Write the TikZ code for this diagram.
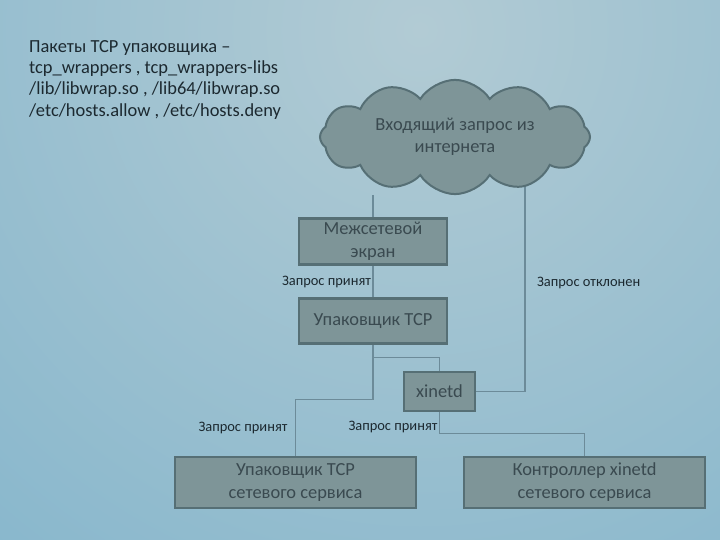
\documentclass[tikz,border=0pt]{standalone}
\usepackage{fontspec}
\setmainfont{Carlito}
\usetikzlibrary{positioning,calc,shapes.symbols}
\definecolor{bglight}{HTML}{B2CBD4}
\definecolor{bgdark}{HTML}{62A5C6}
\definecolor{boxfill}{HTML}{7E9598}
\definecolor{boxedge}{HTML}{566F75}
\definecolor{boxtext}{HTML}{3A4A50}
\definecolor{text}{HTML}{1C2930}
\definecolor{wirecol}{HTML}{6C8B99}
\tikzset{
  block/.style={draw=boxedge, fill=boxfill, line width=2.2bp, align=center,
                inner sep=2bp, text=boxtext, font=\fontsize{18.5}{23}\selectfont},
  wire/.style={draw=wirecol, line width=1.1bp},
  lbl/.style={text=text, inner sep=1.5bp, font=\fontsize{14.5}{16}\selectfont}
}
\pgfdeclarelayer{back}
\pgfdeclarelayer{wires}
\pgfsetlayers{back,wires,main}

\begin{document}
\begin{tikzpicture}[x=1bp,y=-1bp]
    \useasboundingbox (0,0) rectangle (720,540);
    \begin{pgfonlayer}{back}
      \clip (0,0) rectangle (720,540);
      \shade[inner color=bglight, outer color=bgdark] (420,30) circle (1300);
    \end{pgfonlayer}

    % package list
    \node[anchor=north west, align=left, inner sep=0pt, text=text,
          font=\fontsize{18.5}{21.5}\selectfont] (pkgs) at (29,40)
      {Пакеты TCP упаковщика –\\tcp\_wrappers , tcp\_wrappers-libs\\/lib/libwrap.so , /lib64/libwrap.so\\/etc/hosts.allow , /etc/hosts.deny};

    % request path
    \node[cloud, cloud puffs=12, cloud puff arc=115, aspect=2.8, draw=boxedge, fill=boxfill,
          line width=2bp, minimum width=270bp, minimum height=96bp, align=center,
          text=boxtext, font=\fontsize{18.5}{22}\selectfont] (net) at (455,137) {Входящий запрос из\\интернета};
    \node[block,minimum width=148bp,minimum height=46bp] (fw) at (373,241.5) {Межсетевой\\экран};
    \node[block,minimum width=148bp,minimum height=45bp] (tcpw) at (373,321) {Упаковщик TCP};
    \node[block,minimum width=71bp,minimum height=39bp] (xin) at (439.5,391.5) {xinetd};
    \node[block,minimum width=241bp,minimum height=51bp] (svc) at (295.5,482.5) {Упаковщик TCP\\сетевого сервиса};
    \node[block,minimum width=241bp,minimum height=51bp] (ctl) at (584.5,482.5) {Контроллер xinetd\\сетевого сервиса};
    \coordinate (rej) at (525,178);

    \begin{pgfonlayer}{wires}
      \draw[wire] (fw.north) -- (fw.north |- net.south);
      \draw[wire] (fw) -- node[lbl,left,pos=0.5] {Запрос принят} (tcpw);
      \draw[wire] (tcpw.south) -- ++(0,55) -| node[lbl,left=6bp,pos=0.75] {Запрос принят} (svc.north);
      \draw[wire] (tcpw.south) -- ++(0,13) -| (xin.north);
      \draw[wire] (xin.east) -| node[lbl,right=10bp,pos=0.755] {Запрос отклонен} (rej);
      \draw[wire] (xin.south) -- node[lbl,left,pos=0.7] {Запрос принят} ++(0,21) -| (ctl.north);
    \end{pgfonlayer}
  \end{tikzpicture}
\end{document}
